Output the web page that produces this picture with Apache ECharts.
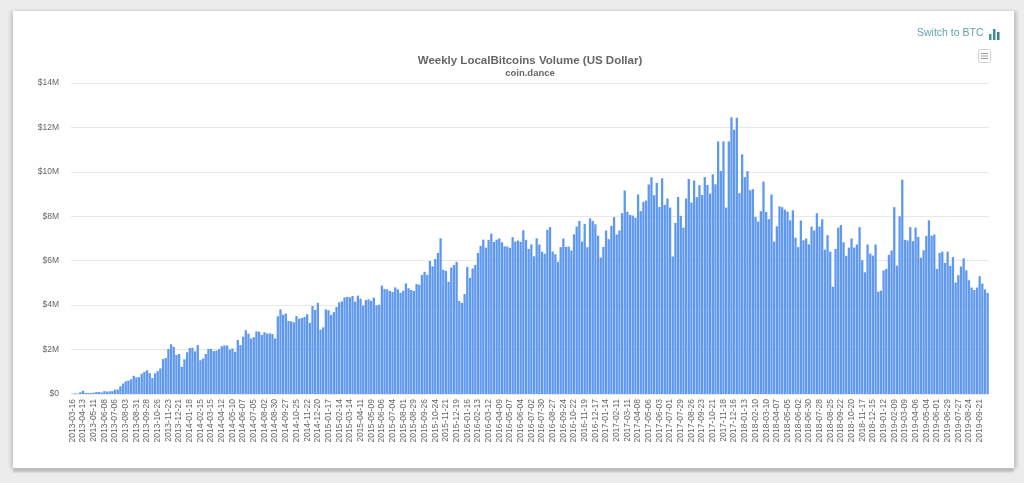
<!DOCTYPE html>
<html><head><meta charset="utf-8">
<script src="https://cdn.jsdelivr.net/npm/echarts@6/dist/echarts.min.js"></script>
<style>
html,body{margin:0;padding:0;width:1024px;height:483px;overflow:hidden;background:#ececec}
#card{position:absolute;left:13px;top:11px;width:1001px;height:457px;background:#fff;box-shadow:0 4px 2px #bdbdbd,-3px 0 3px #d0d0d0,3px 0 3px #c6c6c6}
#c{position:absolute;left:0;top:0;width:1024px;height:483px}
</style></head><body>
<div id="card"></div><div id="c"></div>
<script>
const titleText = 'Weekly LocalBitcoins Volume (US Dollar)';
const subtitleText = 'coin.dance';
const switchText = 'Switch to BTC';
const tickLabels = [
'2013-03-16','2013-04-13','2013-05-11','2013-06-08','2013-07-06','2013-08-03','2013-08-31','2013-09-28','2013-10-26','2013-11-23','2013-12-21',
'2014-01-18','2014-02-15','2014-03-15','2014-04-12','2014-05-10','2014-06-07','2014-07-05','2014-08-02','2014-08-30','2014-09-27','2014-10-25','2014-11-22','2014-12-20',
'2015-01-17','2015-02-14','2015-03-14','2015-04-11','2015-05-09','2015-06-06','2015-07-04','2015-08-01','2015-08-29','2015-09-26','2015-10-24','2015-11-21','2015-12-19',
'2016-01-16','2016-02-13','2016-03-12','2016-04-09','2016-05-07','2016-06-04','2016-07-02','2016-07-30','2016-08-27','2016-09-24','2016-10-22','2016-11-19','2016-12-17',
'2017-01-14','2017-02-11','2017-03-11','2017-04-08','2017-05-06','2017-06-03','2017-07-01','2017-07-29','2017-08-26','2017-09-23','2017-10-21','2017-11-18','2017-12-16',
'2018-01-13','2018-02-10','2018-03-10','2018-04-07','2018-05-05','2018-06-02','2018-06-30','2018-07-28','2018-08-25','2018-09-22','2018-10-20','2018-11-17','2018-12-15',
'2019-01-12','2019-02-09','2019-03-09','2019-04-06','2019-05-04','2019-06-01','2019-06-29','2019-07-27','2019-08-24','2019-09-21'];
// USD volume, millions, one value per week
const volume2013 = [0.01,0.03,0.02,0.08,0.14,0.05,0.05,0.05,0.06,0.09,0.09,0.07,0.13,0.11,0.12,0.13,0.2,0.2,0.35,0.47,0.57,0.6,0.66,0.82,0.75,0.76,0.92,1.0,1.07,0.94,0.72,0.93,1.03,1.15,1.57,1.62,2.03,2.24,2.12,1.76,1.8,1.22,1.56];
const volume2014 = [1.88,2.07,2.08,1.92,2.2,1.52,1.6,1.8,2.03,2.03,1.93,1.96,2.02,2.15,2.19,2.18,2.0,2.05,1.9,2.43,2.2,2.58,2.87,2.72,2.5,2.56,2.82,2.8,2.66,2.78,2.72,2.73,2.7,2.5,3.5,3.81,3.57,3.62,3.29,3.27,3.23,3.51,3.39,3.42,3.47,3.59,3.2,3.96,3.78,4.1,2.9,3.0];
const volume2015 = [3.81,3.77,3.56,3.69,3.92,4.13,4.17,4.35,4.37,4.35,4.41,4.16,4.43,4.29,3.98,4.23,4.26,4.19,4.34,3.99,4.02,4.88,4.73,4.71,4.64,4.59,4.8,4.71,4.56,4.65,4.98,4.76,4.68,4.64,4.95,4.92,5.36,5.5,5.36,5.99,5.75,6.07,6.35,7.01,5.59,5.54,5.05,5.69,5.8,5.95,4.19,4.1];
const volume2016 = [4.5,5.72,5.23,5.65,5.81,6.35,6.67,6.95,6.59,6.94,7.22,6.85,6.95,7.0,6.83,6.65,6.64,6.58,7.06,6.86,6.91,6.85,7.37,6.94,6.53,6.73,6.2,7.01,6.73,6.41,6.31,7.39,7.51,6.41,6.29,5.95,6.61,7.0,6.62,6.64,6.46,7.19,7.54,7.79,6.86,7.66,6.61,7.91,7.79,7.64,7.13,6.14];
const volume2017 = [6.62,7.36,6.97,7.57,7.96,7.18,7.36,8.14,9.16,8.2,8.06,8.03,7.93,8.98,8.23,8.65,8.71,9.43,9.76,8.95,9.5,8.42,9.71,8.51,8.8,8.39,6.19,7.7,8.87,8.02,7.49,8.8,9.68,8.62,9.61,8.86,9.4,8.96,9.76,9.41,9.02,9.89,9.44,11.37,10.04,11.37,8.39,11.37,12.46,11.89,12.44,9.04];
const volume2018 = [10.79,9.76,10.03,9.17,9.22,7.97,7.76,8.23,9.56,8.2,7.87,8.98,6.86,7.55,8.45,8.41,8.3,8.21,7.82,8.27,7.04,6.61,7.81,6.92,7.0,6.74,7.54,7.36,8.14,7.54,7.87,6.5,7.15,6.41,4.83,6.53,7.49,7.61,6.83,6.22,6.59,7.0,6.59,6.73,7.51,6.02,5.48,6.73,6.32,6.23,6.73,4.61];
const volume2019 = [4.65,5.56,5.63,6.26,6.46,8.41,5.78,8.0,9.65,6.94,6.91,7.51,6.88,7.49,7.07,6.13,6.47,7.12,7.82,7.13,7.18,5.63,6.35,6.41,5.9,6.41,5.77,6.16,5.02,5.35,5.74,6.11,5.57,5.12,4.79,4.68,4.79,5.3,4.97,4.71,4.55];
const volumeMillions = [].concat(volume2013,volume2014,volume2015,volume2016,volume2017,volume2018,volume2019);
const categories = tickLabels.flatMap(d => [d,'','','']);

const chart = echarts.init(document.getElementById('c'), null, {renderer:'canvas'});
chart.setOption({
  animation:false,
  backgroundColor:'transparent',
  title:{text:titleText,subtext:subtitleText,left:525,top:50,itemGap:1,
    textAlign:'center',
    textStyle:{fontFamily:'Liberation Sans',fontSize:11.5,fontWeight:'bold',color:'#666'},
    subtextStyle:{fontFamily:'Liberation Sans',fontSize:9.5,fontWeight:'bold',color:'#666'}},
  grid:{left:71,right:35,top:83,bottom:89,containLabel:false},
  xAxis:{type:'category',data:categories,
    axisLine:{show:false},axisTick:{show:false},splitLine:{show:false},
    axisLabel:{interval:3,rotate:90,margin:5,fontFamily:'Liberation Sans',fontSize:8.5,color:'#666',hideOverlap:false,showMinLabel:true,showMaxLabel:true}},
  yAxis:{type:'value',min:0,max:14,interval:2,
    axisLine:{show:false},axisTick:{show:false},
    splitLine:{lineStyle:{color:'#e8e8e8',width:1}},
    axisLabel:{margin:12,fontFamily:'Liberation Sans',fontSize:8.5,color:'#666',
      formatter:v=>v===0?'$0':'$'+v+'M'}},
  series:[{type:'bar',data:volumeMillions,barWidth:'86%',
    itemStyle:{color:'#5f98ef'},silent:true}],
  graphic:[
    {type:'text',left:917,top:28,style:{text:switchText,fontFamily:'Liberation Sans',fontSize:10.5,fill:'#5fa6a6'}},
    {type:'rect',shape:{x:989,y:34,width:2.5,height:6},style:{fill:'#4a9a8a'}},
    {type:'rect',shape:{x:993,y:29,width:2.5,height:11},style:{fill:'#3f8f8f'}},
    {type:'rect',shape:{x:997,y:32,width:2.5,height:8},style:{fill:'#3a7f8f'}},
    {type:'rect',shape:{x:978.5,y:49.5,width:12,height:13,r:2},style:{fill:'#fff',stroke:'#cfcfcf',lineWidth:1}},
    {type:'rect',shape:{x:981,y:53,width:7,height:1},style:{fill:'#999'}},
    {type:'rect',shape:{x:981,y:55.5,width:7,height:1},style:{fill:'#999'}},
    {type:'rect',shape:{x:981,y:58,width:7,height:1},style:{fill:'#999'}}
  ]
});
</script></body></html>
